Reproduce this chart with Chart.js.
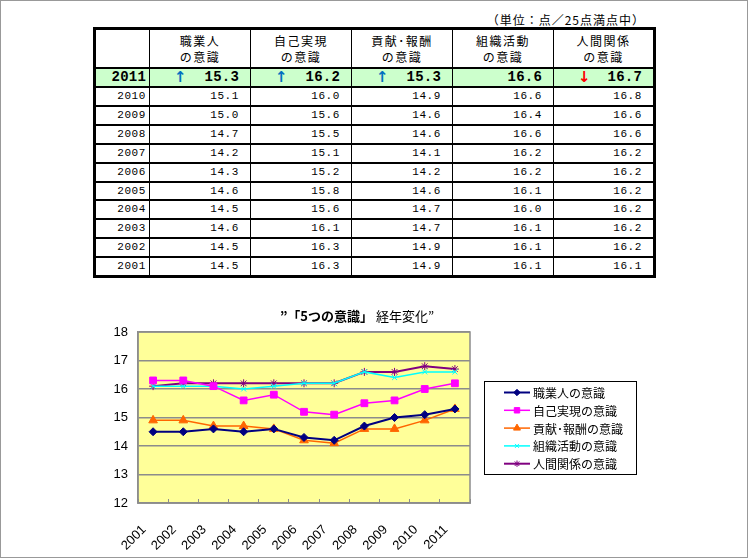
<!DOCTYPE html>
<html>
<head>
<meta charset="utf-8">
<script src="https://cdn.jsdelivr.net/npm/chart.js@4.4.0/dist/chart.umd.min.js"></script>
<style>
  body { margin: 0; background: #fff; }
  #page { position: relative; width: 748px; height: 558px; overflow: hidden; background: #fff; }
  #frame { position: absolute; left: 0; top: 0; width: 748px; height: 558px; box-sizing: border-box; border: 1px solid #999; pointer-events: none; }
  #unit { position: absolute; right: 103px; top: 13px; font: 12px/14px "Noto Sans CJK JP", sans-serif; letter-spacing: 1px; white-space: nowrap; }
  #tbl { position: absolute; left: 93px; top: 27px; border-collapse: collapse; table-layout: fixed; border: 3px solid #000; }
  #tbl td { border: 1px solid #000; border-top-width: 2px; border-bottom-width: 2px; padding: 0; overflow: hidden; white-space: nowrap; }
  #tbl tr.head td { height: 37px; text-align: center; font: 12px/16px "Noto Sans CJK JP", sans-serif; letter-spacing: 1.5px; vertical-align: middle; padding-top: 0; }
  #tbl tr.row td { height: 16.9px; text-align: right; font: 11px/16.9px "Liberation Mono", monospace; letter-spacing: 0.6px; padding-right: 11px; }
  #tbl tr.row td.yr { padding-right: 3px; }
  #tbl tr.latest td { height: 17px; background: #ccffcc; text-align: right; font: bold 14px/17px "Liberation Mono", monospace; letter-spacing: 0.2px; padding-right: 11px; }
  #tbl tr.latest td.yr { padding-right: 3px; }
  .arr { float: left; margin-left: 24px; font: bold 15px/17px "DejaVu Sans", sans-serif; }
  .up { color: #0070c0; }
  .down { color: #ff0000; }
  #chart { position: absolute; left: 90px; top: 296px; }
</style>
</head>
<body>
<div id="page">
  <div id="unit">（単位：点／25点満点中）</div>
  <table id="tbl">
    <colgroup>
      <col style="width:55px"><col style="width:101px"><col style="width:101px"><col style="width:101px"><col style="width:101px"><col style="width:101px">
    </colgroup>
    <tbody id="tbody"></tbody>
  </table>
  <canvas id="chart" width="570" height="258"></canvas>
  <div id="frame"></div>
</div>
<script>
// years on the x axis (oldest first)
const years = ['2001', '2002', '2003', '2004', '2005', '2006', '2007', '2008', '2009', '2010', '2011'];

// series names (legend) and the two header lines of the table
const seriesNames = ['職業人の意識', '自己実現の意識', '貢献･報酬の意識', '組織活動の意識', '人間関係の意識'];
const headTop = ['職業人', '自己実現', '貢献･報酬', '組織活動', '人間関係'];
const headBottom = 'の意識';

// scores, 2001 .. 2011
const shokugyojin = [14.5, 14.5, 14.6, 14.5, 14.6, 14.3, 14.2, 14.7, 15.0, 15.1, 15.3];
const jikoJitsugen = [16.3, 16.3, 16.1, 15.6, 15.8, 15.2, 15.1, 15.5, 15.6, 16.0, 16.2];
const kouken = [14.9, 14.9, 14.7, 14.7, 14.6, 14.2, 14.1, 14.6, 14.6, 14.9, 15.3];
const soshiki = [16.1, 16.1, 16.1, 16.0, 16.1, 16.2, 16.2, 16.6, 16.4, 16.6, 16.6];
const ningen = [16.1, 16.2, 16.2, 16.2, 16.2, 16.2, 16.2, 16.6, 16.6, 16.8, 16.7];

// y axis ticks
const yTicks = [12, 13, 14, 15, 16, 17, 18];

const allSeries = [shokugyojin, jikoJitsugen, kouken, soshiki, ningen];

// styles for each series
const lineColors = ['#000080', '#ff00ff', '#ff6600', '#00ffff', '#800080'];
const markers = ['rectRot', 'rect', 'triangle', 'crossRot', 'star'];
const markerSizes = [4, 4.8, 5, 3.5, 4];
const lineWidths = [2, 1.5, 1.5, 1.5, 2];

/* ---- table ---- */
function buildTable() {
  const tbody = document.getElementById('tbody');
  let html = '<tr class="head"><td></td>';
  for (let k = 0; k < headTop.length; k++) {
    html += '<td>' + headTop[k] + '<br>' + headBottom + '</td>';
  }
  html += '</tr>';
  const last = years.length - 1;
  for (let i = last; i >= 0; i--) {
    const cls = i === last ? 'latest' : 'row';
    html += '<tr class="' + cls + '"><td class="yr">' + years[i] + '</td>';
    allSeries.forEach(function (s) {
      let arrow = '';
      if (i === last) {
        if (s[i] > s[i - 1]) arrow = '<span class="arr up">↑</span>';
        else if (s[i] < s[i - 1]) arrow = '<span class="arr down">↓</span>';
      }
      html += '<td>' + arrow + s[i].toFixed(1) + '</td>';
    });
    html += '</tr>';
  }
  tbody.innerHTML = html;
}
buildTable();

/* ---- chart ---- */
const CJK = '"Noto Sans CJK JP", sans-serif';

// yellow plot background + gray box round the plot
const plotFrame = {
  id: 'plotFrame',
  beforeDraw(chart) {
    const a = chart.chartArea;
    const ctx = chart.ctx;
    ctx.save();
    ctx.fillStyle = '#ffff99';
    ctx.fillRect(a.left, a.top, a.right - a.left, a.bottom - a.top);
    ctx.restore();
  },
  beforeDatasetsDraw(chart) {
    const a = chart.chartArea;
    const ctx = chart.ctx;
    ctx.save();
    ctx.strokeStyle = '#8c8c8c';
    ctx.lineWidth = 1.5;
    ctx.strokeRect(a.left, a.top, a.right - a.left, a.bottom - a.top);
    ctx.restore();
  }
};

// title and the boxed legend, drawn the way the spreadsheet does it
const titleAndLegend = {
  id: 'titleAndLegend',
  afterDraw(chart) {
    const ctx = chart.ctx;
    ctx.save();
    // title: bold first part, plain second part
    const partA = '”「5つの意識」';
    const partB = ' 経年変化”';
    ctx.textBaseline = 'middle';
    ctx.fillStyle = '#000';
    ctx.font = 'bold 13px ' + CJK;
    const wA = ctx.measureText(partA).width;
    ctx.font = '13px ' + CJK;
    const wB = ctx.measureText(partB).width;
    let x = 267 - (wA + wB) / 2;
    ctx.font = 'bold 13px ' + CJK;
    ctx.fillText(partA, x, 20);
    ctx.font = '13px ' + CJK;
    ctx.fillText(partB, x + wA, 20);

    // legend box
    const bx = 394.5, by = 85.5, bw = 152, bh = 93;
    ctx.strokeStyle = '#000';
    ctx.lineWidth = 1;
    ctx.fillStyle = '#fff';
    ctx.fillRect(bx, by, bw, bh);
    ctx.strokeRect(bx, by, bw, bh);
    chart.data.datasets.forEach(function (ds, i) {
      const y = 96.5 + i * 17.8;
      ctx.strokeStyle = ds.borderColor;
      ctx.lineWidth = ds.borderWidth;
      ctx.beginPath();
      ctx.moveTo(414, y);
      ctx.lineTo(440, y);
      ctx.stroke();
      ctx.fillStyle = ds.pointBackgroundColor;
      ctx.strokeStyle = ds.pointBorderColor;
      ctx.lineWidth = 1;
      Chart.helpers.drawPoint(ctx, {
        pointStyle: ds.pointStyle,
        radius: ds.pointRadius * 0.8,
        rotation: 0,
        borderWidth: 1
      }, 427, y);
      ctx.fillStyle = '#000';
      ctx.font = '12px ' + CJK;
      ctx.textBaseline = 'middle';
      ctx.fillText(ds.label, 443, y + 1);
    });
    ctx.restore();
  }
};

const datasets = allSeries.map(function (s, i) {
  return {
    label: seriesNames[i],
    data: s,
    borderColor: lineColors[i],
    backgroundColor: lineColors[i],
    borderWidth: lineWidths[i],
    pointStyle: markers[i],
    pointRadius: markerSizes[i],
    pointBackgroundColor: lineColors[i],
    pointBorderColor: lineColors[i],
    pointBorderWidth: 1,
    tension: 0,
    fill: false
  };
});

new Chart(document.getElementById('chart').getContext('2d'), {
  type: 'line',
  data: { labels: years, datasets: datasets },
  options: {
    responsive: false,
    animation: false,
    devicePixelRatio: 1,
    layout: { padding: { top: 36, right: 190, left: 0, bottom: 0 } },
    scales: {
      x: {
        offset: true,
        afterFit: function (scale) { scale.height = 51; },
        grid: {
          offset: true,
          drawOnChartArea: false,
          drawTicks: true,
          tickLength: -4,
          tickColor: '#8c8c8c'
        },
        border: { color: '#8c8c8c', width: 1.5 },
        ticks: {
          autoSkip: false,
          maxRotation: 45,
          minRotation: 45,
          labelOffset: -9,
          padding: 23,
          color: '#000',
          font: { family: '"Liberation Sans", sans-serif', size: 13 }
        }
      },
      y: {
        min: yTicks[0],
        max: yTicks[yTicks.length - 1],
        afterFit: function (scale) { scale.width = 48; },
        afterBuildTicks: function (scale) {
          scale.ticks = yTicks.map(function (v) { return { value: v }; });
        },
        grid: { color: '#8c8c8c', lineWidth: 1.5, drawTicks: false },
        border: { color: '#8c8c8c', width: 1.5 },
        ticks: {
          padding: 10,
          color: '#000',
          font: { family: '"Liberation Sans", sans-serif', size: 13 }
        }
      }
    },
    plugins: {
      legend: { display: false },
      title: { display: false },
      tooltip: { enabled: false }
    }
  },
  plugins: [plotFrame, titleAndLegend]
});
</script>
</body>
</html>
